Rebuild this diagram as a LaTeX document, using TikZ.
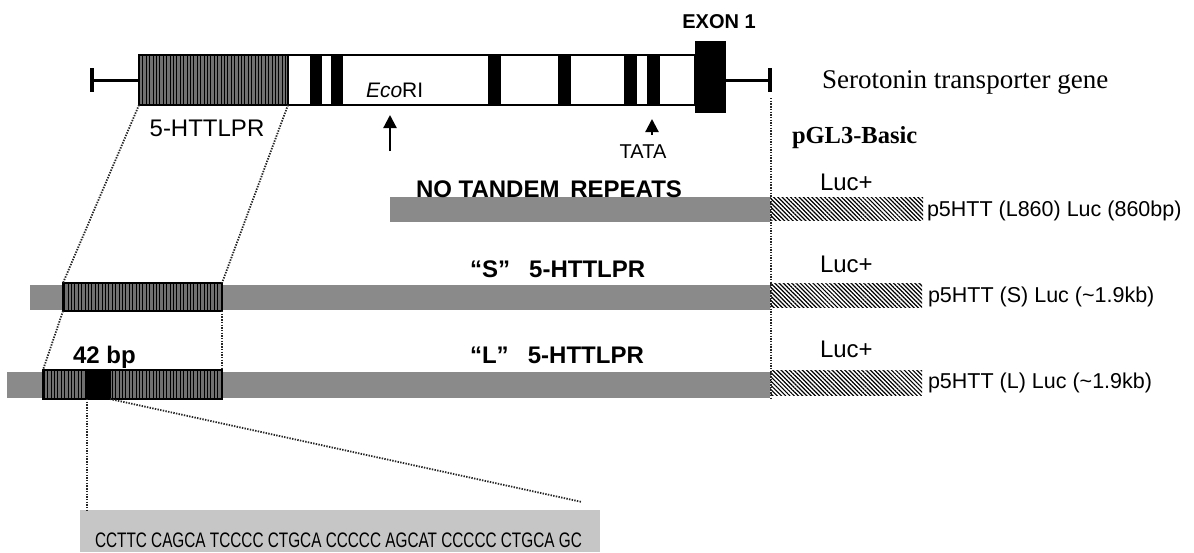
\documentclass[tikz,border=0pt]{standalone}
\usepackage{fontspec}
\setmainfont{Liberation Serif}
\setsansfont{Liberation Sans}
\newfontfamily\narrowsf[FakeStretch=0.73]{Liberation Sans}
\usetikzlibrary{arrows.meta,patterns.meta,positioning}
\definecolor{bargray}{HTML}{8A8A8A}
\definecolor{seqgray}{HTML}{C6C6C6}
\definecolor{repgray}{HTML}{707070}

\begin{document}
\begin{tikzpicture}[
  x=1pt,y=-1pt,
  >=Triangle,
  every node/.style={inner sep=0pt,outer sep=0pt},
  bar/.style={fill=bargray,anchor=north west,minimum height=25pt},
  repeats/.style={draw=black,line width=1.6pt,anchor=north west,preaction={fill=repgray},
                  pattern={Lines[angle=90,distance=3.4pt,line width=0.9pt]}},
  luc/.style={anchor=north west,pattern={Lines[angle=-45,distance=3pt,line width=1.2pt]}},
  gene/.style={draw=black,line width=1.8pt,anchor=north west,minimum height=50pt},
  exon/.style={fill=black,anchor=north west},
  stem/.style={line width=3pt},
  link/.style={line width=1.8pt,dash pattern=on 1.4pt off 1.3pt,black!85},
  site/.style={line width=2.2pt,-{Triangle[width=13pt,length=13pt]}},
  sflbl/.style={font=\sffamily\fontsize{24}{28}\selectfont,anchor=base west},
  sfbold/.style={font=\sffamily\bfseries\fontsize{24}{28}\selectfont,anchor=base west},
  sfsmall/.style={font=\sffamily\fontsize{21.5}{26}\selectfont,anchor=base west},
  rmlbl/.style={font=\rmfamily\fontsize{27}{32}\selectfont,anchor=base west}
]
  \useasboundingbox (0,0) rectangle (1194,552);

  \node[gene,minimum width=556pt] (gene) at (139,55) {};
  \node[repeats,minimum width=149pt,minimum height=50pt] (genrep) at (139,55) {};
  \foreach \a/\b in {310/322,331/343,488/501,558/571,624/637,647/660}
    \fill (\a,55) rectangle (\b,105);
  \node[exon,minimum width=31pt,minimum height=72pt] (ex1) at (695,41) {};
  \coordinate (lend) at (92,80);
  \coordinate (rend) at (770,80);
  \draw[stem] (lend) -- (gene.west);
  \draw[stem] (ex1.east |- rend) -- (rend);
  \draw[line width=4pt] ([yshift=12pt]lend) -- ([yshift=-12pt]lend);
  \draw[line width=4pt] ([yshift=12pt]rend) -- ([yshift=-12pt]rend);

  \node[font=\sffamily\bfseries\fontsize{20}{24}\selectfont,anchor=base] (exlbl) at (719,28) {EXON 1};
  \node[font=\sffamily\fontsize{21}{25}\selectfont,anchor=base west] (eco) at (366,97) {\textit{Eco}RI};
  \node[sflbl,anchor=base] (replbl) at (207,136) {5-HTTLPR};
  \node[font=\sffamily\fontsize{20}{24}\selectfont,anchor=base] (tata) at (643,158) {TATA};
  \coordinate (ecolow) at (390,151);
  \coordinate (ecoup) at (390,115);
  \coordinate (tatalow) at (652,135);
  \coordinate (tataup) at (652,119);
  \draw[site] (ecolow) -- (ecoup);
  \draw[site] (tatalow) -- (tataup);

  \node[rmlbl] (sert) at (822,88) {Serotonin transporter gene};
  \node[font=\rmfamily\bfseries\fontsize{24.5}{29}\selectfont,anchor=base west] (pgl) at (792,143) {pGL3-Basic};

  \node[bar,minimum width=380pt] (tandem) at (390,197) {};
  \node[luc,minimum width=153pt,minimum height=23pt] (luct) at (770,197) {};
  \node[sfbold] (tandlbl) at (416,197) {NO TANDEM\hspace{0.45em}REPEATS};
  \node[sflbl] (lucta) at (820,190) {Luc+};
  \node[sfsmall] (ctl) at (927,216) {p5HTT (L860) Luc (860bp)};

  \node[bar,minimum width=740pt] (sbar) at (30,285) {};
  \node[repeats,minimum width=159pt,minimum height=28pt] (srep) at (63,283) {};
  \node[luc,minimum width=152pt,minimum height=24pt] (lucs) at (770,283) {};
  \node[sfbold] (slbl) at (470,277) {“S”\hspace{0.8em}5-HTTLPR};
  \node[sflbl] (lucsa) at (820,272) {Luc+};
  \node[sfsmall] (sconst) at (928,302) {p5HTT (S) Luc (\textasciitilde1.9kb)};

  \node[bar,minimum width=763pt,minimum height=26pt] (lbar) at (7,372) {};
  \node[repeats,minimum width=179pt,minimum height=29pt] (lrep) at (43,370) {};
  \node[exon,draw=black,line width=1.6pt,minimum width=23pt,minimum height=29pt] (blk) at (87,370) {};
  \node[luc,minimum width=152pt,minimum height=25pt] (lucl) at (770,370) {};
  \node[sfbold] (llbl) at (470,363) {“L”\hspace{0.8em}5-HTTLPR};
  \node[sfbold] (bp) at (73,363) {42 bp};
  \node[sflbl] (lucla) at (820,357) {Luc+};
  \node[sfsmall] (lconst) at (928,388) {p5HTT (L) Luc (\textasciitilde1.9kb)};

  \node[fill=seqgray,anchor=north west,minimum width=520pt,minimum height=42pt] (seq) at (80,510) {};
  \node[font=\narrowsf\fontsize{21}{25}\selectfont,anchor=base west] (seqtxt) at (95,547)
    {CCTTC CAGCA TCCCC CTGCA CCCCC AGCAT CCCCC CTGCA GC};

  \coordinate (vtop) at (771,98);
  \coordinate (vbot) at (771,400);
  \draw[link] (vtop) -- (vbot);
  \draw[link] (genrep.south west) -- (srep.north west);
  \draw[link] (genrep.south east) -- (srep.north east);
  \draw[link] (srep.south west) -- (lrep.north west);
  \draw[link] (srep.south east) -- (lrep.north east);
  \draw[link] (blk.south west) -- (blk.south west |- seq.north);
  \draw[link] (blk.south east) -- ([xshift=-18pt,yshift=8pt]seq.north east);
\end{tikzpicture}
\end{document}
